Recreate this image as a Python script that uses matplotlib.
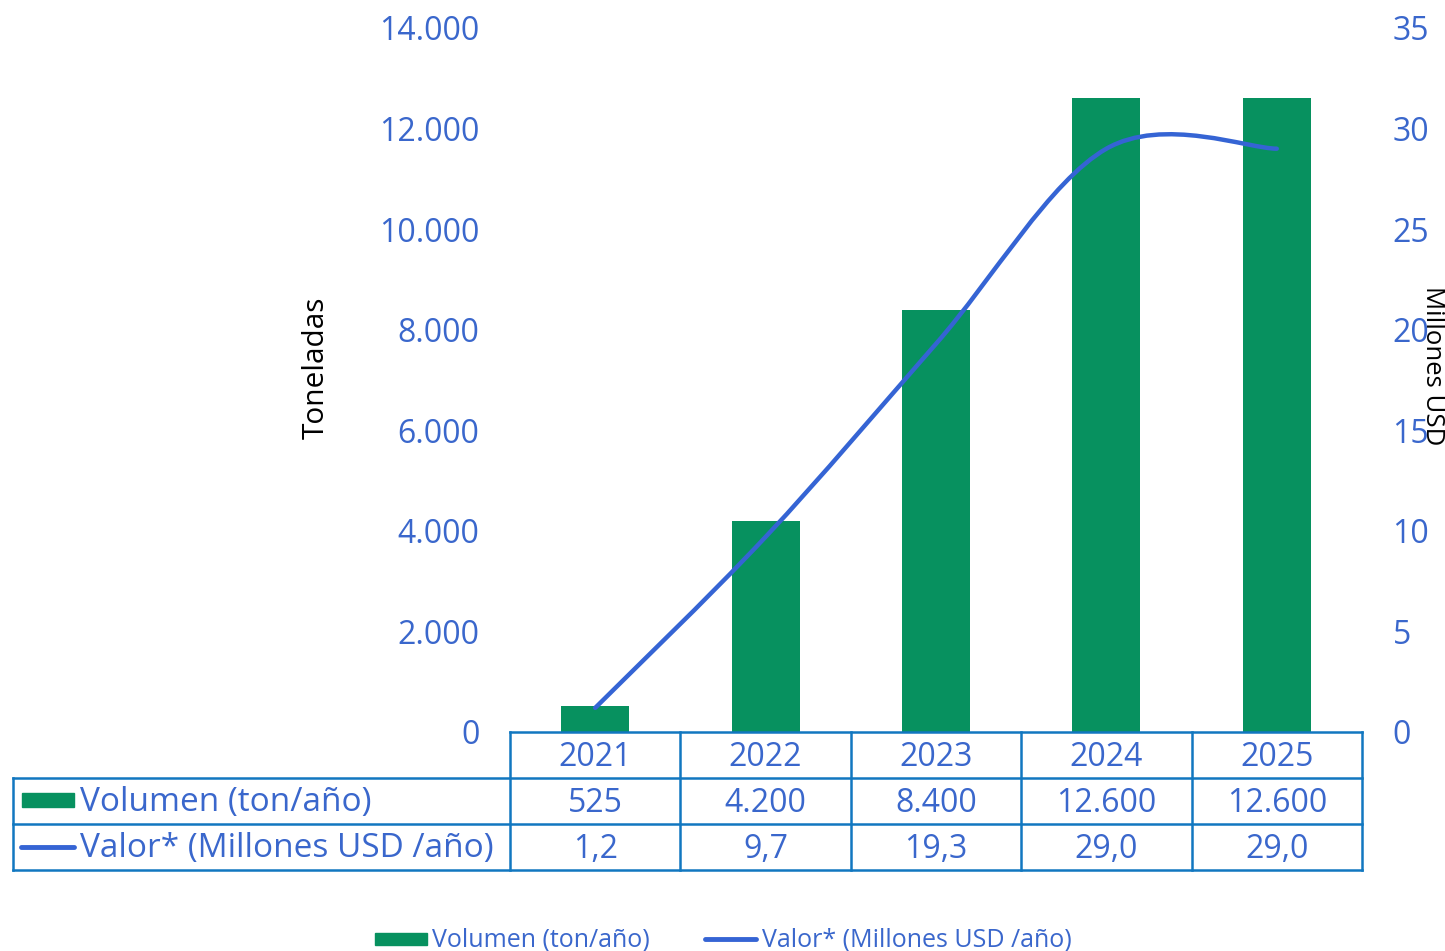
import numpy as np
import matplotlib
matplotlib.use('Agg')
import matplotlib.pyplot as plt
from matplotlib.path import Path
from matplotlib.patches import PathPatch, Rectangle
from matplotlib.lines import Line2D
from matplotlib.ticker import FuncFormatter, MultipleLocator

years = ['2021', '2022', '2023', '2024', '2025']
volumen = [525, 4200, 8400, 12600, 12600]
valor = [1.2, 9.7, 19.3, 29.0, 29.0]
volumen_txt = ['525', '4.200', '8.400', '12.600', '12.600']
valor_txt = ['1,2', '9,7', '19,3', '29,0', '29,0']
serie_vol = 'Volumen (ton/año)'
serie_val = 'Valor* (Millones USD /año)'

green = '#07915F'
blue_line = '#3564D4'
blue_txt = '#3A67CC'
border = '#1177C0'

plt.rcParams['font.family'] = ['Open Sans', 'DejaVu Sans']

W, H = 1445, 951
fig = plt.figure(figsize=(W / 100, H / 100), dpi=100)


def fx(px):
    return px / W


def fy(py):
    return 1 - py / H


x0, x1, ytop, ybot = 510, 1362, 28, 732
ax = fig.add_axes([fx(x0), fy(ybot), fx(x1 - x0), (ybot - ytop) / H])
ax2 = ax.twinx()

x = np.arange(len(years))
ax.bar(x, volumen, width=0.4, color=green, zorder=2)
ax.set_xlim(-0.5, len(years) - 0.5)
ax.set_ylim(0, 14000)
ax.yaxis.set_major_locator(MultipleLocator(2000))
ax.yaxis.set_major_formatter(FuncFormatter(lambda v, p: f'{int(v):,}'.replace(',', '.')))
ax.set_xticks([])
ax.tick_params(axis='y', length=0, pad=22, labelsize=23, labelcolor=blue_txt)
fig.text(fx(316), fy(368), 'Toneladas', rotation=90, fontsize=21.5,
         ha='center', va='center', color='black')

# smoothed line (Excel-like bezier through the points)
pts = np.column_stack([x, valor]).astype(float)
verts = [tuple(pts[0])]
codes = [Path.MOVETO]
n = len(pts)
for i in range(n - 1):
    p0 = pts[i - 1] if i > 0 else pts[i]
    p1 = pts[i]
    p2 = pts[i + 1]
    p3 = pts[i + 2] if i + 2 < n else pts[i + 1]
    c1 = p1 + (p2 - p0) / 6
    c2 = p2 - (p3 - p1) / 6
    verts += [tuple(c1), tuple(c2), tuple(p2)]
    codes += [Path.CURVE4] * 3
ax2.add_patch(PathPatch(Path(verts, codes), fill=False, edgecolor=blue_line,
                        lw=3.2, capstyle='round', zorder=3))
ax2.set_ylim(0, 35)
ax2.yaxis.set_major_locator(MultipleLocator(5))
ax2.tick_params(axis='y', length=0, pad=22, labelsize=23, labelcolor=blue_txt)
fig.text(fx(1432), fy(366), 'Millones USD', rotation=-90, fontsize=18.5,
         ha='center', va='center', color='black')

for a in (ax, ax2):
    for s in a.spines.values():
        s.set_visible(False)

# data table
rows = [732, 778, 824, 870]
col_x = [x0 + (x1 - x0) * i / len(years) for i in range(len(years) + 1)]
lw = 1.8
def hline(xa, xb, yy):
    fig.add_artist(Line2D([fx(xa), fx(xb)], [fy(yy), fy(yy)], color=border, lw=lw))
def vline(xx, ya, yb):
    fig.add_artist(Line2D([fx(xx), fx(xx)], [fy(ya), fy(yb)], color=border, lw=lw))

hline(x0, x1, rows[0])
for r in rows[1:]:
    hline(13, x1, r)
for cx in col_x:
    vline(cx, rows[0], rows[3])
vline(13, rows[1], rows[3])

for i, yr in enumerate(years):
    cx = (col_x[i] + col_x[i + 1]) / 2
    for r, txt in zip(range(3), [yr, volumen_txt[i], valor_txt[i]]):
        fig.text(fx(cx), fy((rows[r] + rows[r + 1]) / 2 + 3), txt, fontsize=23,
                 ha='center', va='center', color=blue_txt)

fig.add_artist(Rectangle((fx(22), fy(807)), fx(52), 14 / H, color=green))
fig.text(fx(80), fy(803), serie_vol, fontsize=24, ha='left', va='center', color=blue_txt)
fig.add_artist(Line2D([fx(21), fx(74)], [fy(847), fy(847)], color=blue_line, lw=3.5,
                      solid_capstyle='round'))
fig.text(fx(80), fy(849), serie_val, fontsize=24, ha='left', va='center', color=blue_txt)

# legend at bottom
fig.add_artist(Rectangle((fx(375), fy(945)), fx(52), 12 / H, color=green))
fig.text(fx(432), fy(940), serie_vol, fontsize=18, ha='left', va='center', color=blue_txt)
fig.add_artist(Line2D([fx(705), fx(756)], [fy(939), fy(939)], color=blue_line, lw=3.5,
                      solid_capstyle='round'))
fig.text(fx(762), fy(940), serie_val, fontsize=18, ha='left', va='center', color=blue_txt)

fig.savefig('out.png', dpi=100)
